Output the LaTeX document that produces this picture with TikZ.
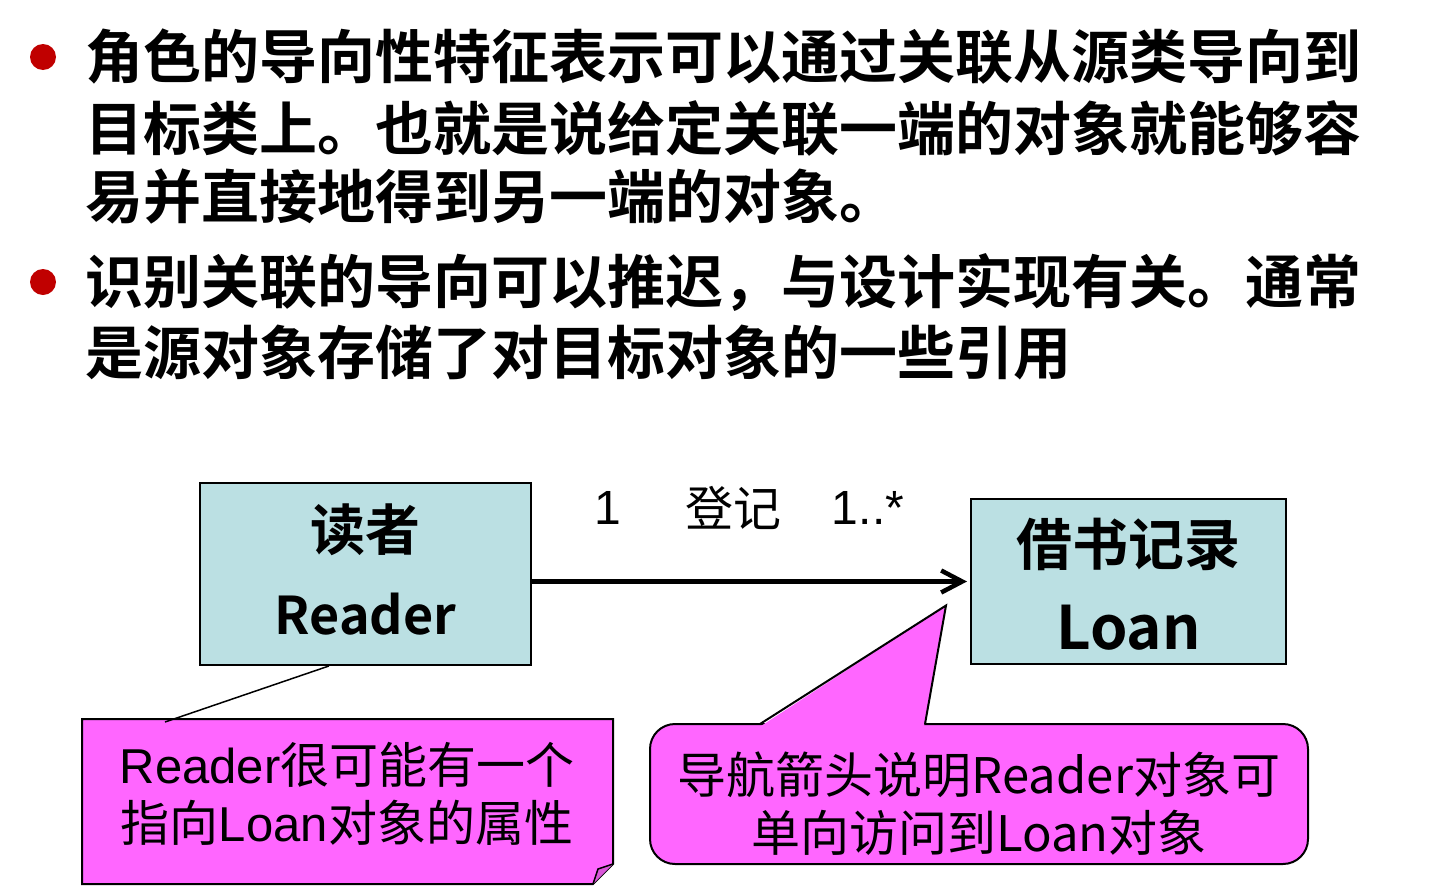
\documentclass[tikz,border=0pt]{standalone}
\usepackage{fontspec}
\setmainfont{Noto Sans CJK SC}[BoldFont={Noto Sans CJK SC Bold}]
\newfontfamily\latin{Liberation Sans}
\usetikzlibrary{arrows.meta, calc}

\definecolor{bulletred}{HTML}{C00000}
\definecolor{classblue}{HTML}{BBE0E3}
\definecolor{notepink}{HTML}{FF66FF}

\tikzset{
  bulletdot/.style={circle, fill=bulletred, minimum size=26pt, inner sep=0pt},
  bullettext/.style={anchor=west, inner sep=0pt, font=\fontsize{58}{58}\selectfont\bfseries},
  classbox/.style={draw, line width=2pt, fill=classblue, inner sep=0pt},
  classname/.style={inner sep=0pt, font=\fontsize{55}{55}\selectfont\bfseries},
  multlabel/.style={inner sep=0pt, font=\fontsize{48}{48}\selectfont},
  notetext/.style={align=center, inner sep=0pt, font=\fontsize{49}{58}\selectfont},
}

\begin{document}
\begin{tikzpicture}[x=1pt, y=-1pt]

% Fix the size of the page
\useasboundingbox (0,0) rectangle (1429,889);

% First bullet
\node[bulletdot] (dot1) at (43,57) {};
\node[bullettext] (line1) at (85,57) {角色的导向性特征表示可以通过关联从源类导向到};
\node[bullettext] (line2) at (85,128) {目标类上。也就是说给定关联一端的对象就能够容};
\node[bullettext] (line3) at (85,197) {易并直接地得到另一端的对象。};

% Second bullet
\node[bulletdot] (dot2) at (43,282) {};
\node[bullettext] (line4) at (85,282) {识别关联的导向可以推迟，与设计实现有关。通常};
\node[bullettext] (line5) at (85,352) {是源对象存储了对目标对象的一些引用};

% The two classes
\node[classbox, minimum width=331pt, minimum height=182pt] (reader) at (365.5,574) {};
\node[classname] (readerzh) at ($(reader.center)+(0,-44)$) {读者};
\node[classname, font=\fontsize{52}{52}\selectfont\bfseries] (readeren) at ($(reader.center)+(0,40)$) {Reader};

\node[classbox, minimum width=315pt, minimum height=165pt] (loan) at (1128.5,581.5) {};
\node[classname, font=\fontsize{56}{56}\selectfont\bfseries] (loanzh) at ($(loan.center)+(0,-37)$) {借书记录};
\node[classname, font=\fontsize{60}{60}\selectfont\bfseries] (loanen) at ($(loan.center)+(0,46)$) {Loan};

% Navigable association from Reader to Loan
\draw[line width=4.5pt, -{Straight Barb[length=21pt, width=22pt, line width=4.5pt]}]
  (reader.east |- loan.west) -- ([xshift=-3pt]loan.west);

% Multiplicities and association name
\node[multlabel] (multone) at (608,508) {\latin 1};
\node[multlabel] (assocname) at (733,508) {登记};
\node[multlabel] (multmany) at (868,508) {\latin 1..*};

% Left note with folded corner
\draw[fill=notepink, line width=2pt] (82,719) -- (613,719) -- (613,864) -- (593,884) -- (82,884) -- cycle;
\draw[fill=notepink!85!black, line width=1.5pt] (613,864) -- (598,869) -- (593,884);
\node[notetext] (note1) at (347,794) {{\latin Reader}很可能有一个\\指向{\latin Loan}对象的属性};

% Line from the note to Reader
\coordinate (notehead) at (165,722);
\coordinate (readerfoot) at ($(reader.south west)!0.39!(reader.south east)$);
\draw[line width=1.5pt] (notehead) -- (readerfoot);

% Right callout pointing at the arrow head
\coordinate (tip) at ($(loan.west)+(-24,24)$);
\draw[fill=notepink, line width=2pt, rounded corners=25pt] (650,724) rectangle (1308,864);
\fill[notepink] (761,726) -- (tip) -- (924,726) -- cycle;
\draw[line width=2pt] (760,724) -- (tip) -- (925,724);
\node[notetext] (note2) at (979,804) {导航箭头说明Reader对象可\\单向访问到Loan对象};

\end{tikzpicture}
\end{document}
